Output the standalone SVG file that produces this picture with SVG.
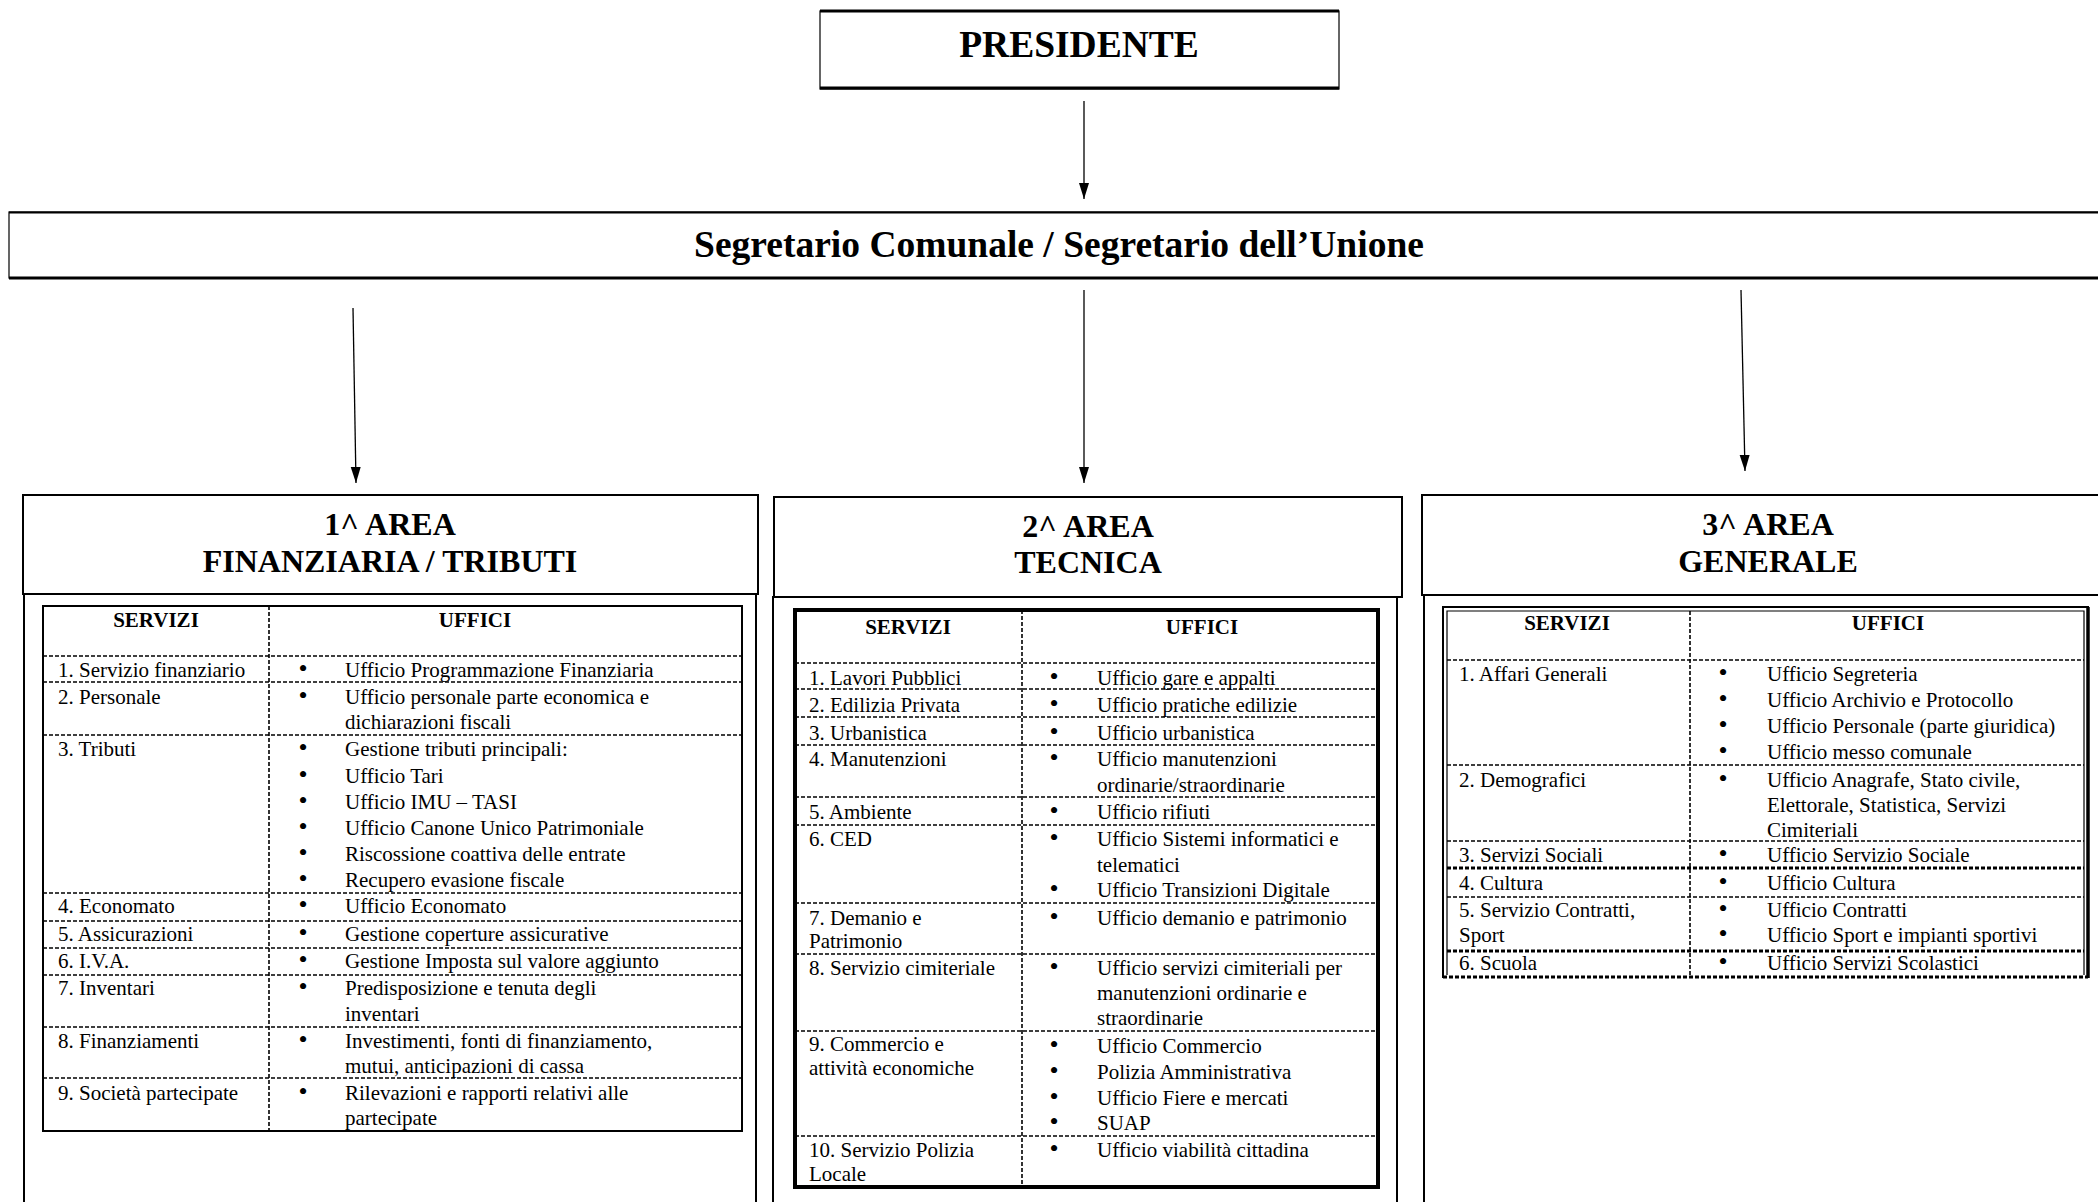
<svg xmlns="http://www.w3.org/2000/svg" width="2098" height="1202" viewBox="0 0 2098 1202">
<style>
  text { font-family: "Liberation Serif", "Times New Roman", serif; fill: #000; }
  .t { font-size: 21px; }
  .bu { font-size: 26px; text-anchor: middle; }
  .th { font-size: 21px; font-weight: bold; text-anchor: middle; }
  .h1 { font-size: 37.5px; font-weight: bold; text-anchor: middle; }
  .h2 { font-size: 32px; font-weight: bold; text-anchor: middle; }
  .box { fill: #fff; stroke: #000; stroke-width: 2; }
  .thin { fill: none; stroke: #000; stroke-width: 1.2; }
  .dash { fill: none; stroke: #000; stroke-width: 1.6; stroke-dasharray: 4 2; }
  .dashb { fill: none; stroke: #000; stroke-width: 3; stroke-dasharray: 4 2; }
  .conn { stroke: #000; stroke-width: 1.3; fill: none; }
</style>
<defs>
  <marker id="arr" markerUnits="userSpaceOnUse" markerWidth="17" markerHeight="11" refX="16" refY="5" orient="auto" viewBox="0 0 17 11">
    <path d="M0,0 L16,5 L0,10 z" fill="#000"/>
  </marker>
</defs>
<rect x="0" y="0" width="2098" height="1202" fill="#fff"/>

<g id="presidente">
  <rect x="820" y="11" width="519" height="78" class="thin" fill="#fff"/>
  <line x1="820" y1="11" x2="1339" y2="11" stroke="#000" stroke-width="3"/>
  <line x1="820" y1="88" x2="1339" y2="88" stroke="#000" stroke-width="3"/>
  <text x="1079" y="57" class="h1">PRESIDENTE</text>
</g>

<g id="segretario">
  <rect x="9" y="212" width="2100" height="66" class="thin" fill="#fff"/>
  <line x1="9" y1="212.5" x2="2098" y2="212.5" stroke="#000" stroke-width="2"/>
  <line x1="9" y1="278" x2="2098" y2="278" stroke="#000" stroke-width="3"/>
  <text x="1059" y="257" class="h1">Segretario Comunale / Segretario dell’Unione</text>
</g>

<g id="connectors">
  <line x1="1084" y1="101" x2="1084" y2="199" class="conn" marker-end="url(#arr)"/>
  <line x1="353" y1="308" x2="356" y2="483" class="conn" marker-end="url(#arr)"/>
  <line x1="1084" y1="290" x2="1084" y2="483" class="conn" marker-end="url(#arr)"/>
  <line x1="1741" y1="290" x2="1745" y2="471" class="conn" marker-end="url(#arr)"/>
</g>

<g id="area1">
  <rect x="24" y="594" width="732" height="630" class="box"/>
  <rect x="23" y="495" width="735" height="99" class="box"/>
  <text x="390" y="535" class="h2">1^ AREA</text>
  <text x="390" y="572" class="h2">FINANZIARIA / TRIBUTI</text>
  <rect x="43" y="606" width="699" height="525" class="box"/>
  <line x1="269" y1="606" x2="269" y2="1131" class="dash"/>
  <path class="dash" d="M43,656 H742 M43,682 H742 M43,735 H742 M43,893 H742 M43,921 H742 M43,948 H742 M43,975 H742 M43,1027 H742 M43,1078 H742"/>
  <text x="156" y="627" class="th">SERVIZI</text>
  <text x="475" y="627" class="th">UFFICI</text>

  <text x="58" y="677" class="t">1. Servizio finanziario</text>
  <text x="303" y="677" class="bu">•</text>
  <text x="345" y="677" class="t">Ufficio Programmazione Finanziaria</text>

  <text x="58" y="704" class="t">2. Personale</text>
  <text x="303" y="704" class="bu">•</text>
  <text x="345" y="704" class="t">Ufficio personale parte economica e</text>
  <text x="345" y="729" class="t">dichiarazioni fiscali</text>

  <text x="58" y="756" class="t">3. Tributi</text>
  <text x="303" y="756" class="bu">•</text>
  <text x="345" y="756" class="t">Gestione tributi principali:</text>
  <text x="303" y="783" class="bu">•</text>
  <text x="345" y="783" class="t">Ufficio Tari</text>
  <text x="303" y="809" class="bu">•</text>
  <text x="345" y="809" class="t">Ufficio IMU – TASI</text>
  <text x="303" y="835" class="bu">•</text>
  <text x="345" y="835" class="t">Ufficio Canone Unico Patrimoniale</text>
  <text x="303" y="861" class="bu">•</text>
  <text x="345" y="861" class="t">Riscossione coattiva delle entrate</text>
  <text x="303" y="887" class="bu">•</text>
  <text x="345" y="887" class="t">Recupero evasione fiscale</text>

  <text x="58" y="913" class="t">4. Economato</text>
  <text x="303" y="913" class="bu">•</text>
  <text x="345" y="913" class="t">Ufficio Economato</text>

  <text x="58" y="941" class="t">5. Assicurazioni</text>
  <text x="303" y="941" class="bu">•</text>
  <text x="345" y="941" class="t">Gestione coperture assicurative</text>

  <text x="58" y="968" class="t">6. I.V.A.</text>
  <text x="303" y="968" class="bu">•</text>
  <text x="345" y="968" class="t">Gestione Imposta sul valore aggiunto</text>

  <text x="58" y="995" class="t">7. Inventari</text>
  <text x="303" y="995" class="bu">•</text>
  <text x="345" y="995" class="t">Predisposizione e tenuta degli</text>
  <text x="345" y="1021" class="t">inventari</text>

  <text x="58" y="1048" class="t">8. Finanziamenti</text>
  <text x="303" y="1048" class="bu">•</text>
  <text x="345" y="1048" class="t">Investimenti, fonti di finanziamento,</text>
  <text x="345" y="1073" class="t">mutui, anticipazioni di cassa</text>

  <text x="58" y="1100" class="t">9. Società partecipate</text>
  <text x="303" y="1100" class="bu">•</text>
  <text x="345" y="1100" class="t">Rilevazioni e rapporti relativi alle</text>
  <text x="345" y="1125" class="t">partecipate</text>
</g>

<g id="area2">
  <rect x="773" y="597" width="624" height="630" class="box"/>
  <rect x="774" y="497" width="628" height="100" class="box"/>
  <text x="1088" y="537" class="h2">2^ AREA</text>
  <text x="1088" y="573" class="h2">TECNICA</text>
  <rect x="795" y="610" width="583" height="577" fill="#fff" stroke="#000" stroke-width="4"/>
  <line x1="1022" y1="610" x2="1022" y2="1187" class="dash"/>
  <path class="dash" d="M795,663 H1378 M795,689 H1378 M795,717 H1378 M795,745 H1378 M795,797 H1378 M795,825 H1378 M795,903 H1378 M795,954 H1378 M795,1031 H1378 M795,1136 H1378"/>
  <text x="908" y="634" class="th">SERVIZI</text>
  <text x="1202" y="634" class="th">UFFICI</text>

  <text x="809" y="685" class="t"> 1. Lavori Pubblici</text>
  <text x="1054" y="685" class="bu">•</text>
  <text x="1097" y="685" class="t">Ufficio gare e appalti</text>

  <text x="809" y="712" class="t">2. Edilizia Privata</text>
  <text x="1054" y="712" class="bu">•</text>
  <text x="1097" y="712" class="t">Ufficio pratiche edilizie</text>

  <text x="809" y="740" class="t">3. Urbanistica</text>
  <text x="1054" y="740" class="bu">•</text>
  <text x="1097" y="740" class="t">Ufficio urbanistica</text>

  <text x="809" y="766" class="t">4. Manutenzioni</text>
  <text x="1054" y="766" class="bu">•</text>
  <text x="1097" y="766" class="t">Ufficio manutenzioni</text>
  <text x="1097" y="792" class="t">ordinarie/straordinarie</text>

  <text x="809" y="819" class="t">5. Ambiente</text>
  <text x="1054" y="819" class="bu">•</text>
  <text x="1097" y="819" class="t">Ufficio rifiuti</text>

  <text x="809" y="846" class="t">6. CED</text>
  <text x="1054" y="846" class="bu">•</text>
  <text x="1097" y="846" class="t">Ufficio Sistemi informatici e</text>
  <text x="1097" y="872" class="t">telematici</text>
  <text x="1054" y="897" class="bu">•</text>
  <text x="1097" y="897" class="t">Ufficio Transizioni Digitale</text>

  <text x="809" y="925" class="t">7. Demanio e</text>
  <text x="809" y="948" class="t">Patrimonio</text>
  <text x="1054" y="925" class="bu">•</text>
  <text x="1097" y="925" class="t">Ufficio demanio e patrimonio</text>

  <text x="809" y="975" class="t">8. Servizio cimiteriale</text>
  <text x="1054" y="975" class="bu">•</text>
  <text x="1097" y="975" class="t">Ufficio servizi cimiteriali per</text>
  <text x="1097" y="1000" class="t">manutenzioni ordinarie e</text>
  <text x="1097" y="1025" class="t">straordinarie</text>

  <text x="809" y="1051" class="t">9. Commercio e</text>
  <text x="809" y="1075" class="t">attività economiche</text>
  <text x="1054" y="1053" class="bu">•</text>
  <text x="1097" y="1053" class="t">Ufficio Commercio</text>
  <text x="1054" y="1079" class="bu">•</text>
  <text x="1097" y="1079" class="t">Polizia Amministrativa</text>
  <text x="1054" y="1105" class="bu">•</text>
  <text x="1097" y="1105" class="t">Ufficio Fiere e mercati</text>
  <text x="1054" y="1130" class="bu">•</text>
  <text x="1097" y="1130" class="t">SUAP</text>

  <text x="809" y="1157" class="t">10. Servizio Polizia</text>
  <text x="809" y="1181" class="t">Locale</text>
  <text x="1054" y="1157" class="bu">•</text>
  <text x="1097" y="1157" class="t">Ufficio viabilità cittadina</text>
</g>

<g id="area3">
  <rect x="1424" y="595" width="700" height="630" class="box"/>
  <rect x="1422" y="495" width="700" height="100" class="box"/>
  <text x="1768" y="535" class="h2">3^ AREA</text>
  <text x="1768" y="572" class="h2">GENERALE</text>
  <rect x="1443" y="607" width="645" height="371" fill="#fff"/>
  <path d="M1443,978 V607 H2088 V978" fill="none" stroke="#000" stroke-width="2"/>
  <path d="M1447,975 V611 H2084 V975" fill="none" stroke="#000" stroke-width="1.2"/>
  <line x1="2088" y1="607" x2="2088" y2="978" stroke="#000" stroke-width="3.5"/>
  <line x1="1443" y1="977" x2="2088" y2="977" class="dashb"/>
  <line x1="1690" y1="611" x2="1690" y2="976" class="dash"/>
  <path class="dash" d="M1447,660 H2084 M1447,765 H2084 M1447,841 H2084 M1447,897 H2084"/>
  <path class="dashb" d="M1447,868 H2084 M1447,951 H2084"/>
  <text x="1567" y="630" class="th">SERVIZI</text>
  <text x="1888" y="630" class="th">UFFICI</text>

  <text x="1459" y="681" class="t"> 1. Affari Generali</text>
  <text x="1723" y="681" class="bu">•</text>
  <text x="1767" y="681" class="t">Ufficio Segreteria</text>
  <text x="1723" y="707" class="bu">•</text>
  <text x="1767" y="707" class="t">Ufficio Archivio e Protocollo</text>
  <text x="1723" y="733" class="bu">•</text>
  <text x="1767" y="733" class="t">Ufficio Personale (parte giuridica)</text>
  <text x="1723" y="759" class="bu">•</text>
  <text x="1767" y="759" class="t">Ufficio messo comunale</text>

  <text x="1459" y="787" class="t">2. Demografici</text>
  <text x="1723" y="787" class="bu">•</text>
  <text x="1767" y="787" class="t">Ufficio Anagrafe, Stato civile,</text>
  <text x="1767" y="812" class="t">Elettorale, Statistica, Servizi</text>
  <text x="1767" y="837" class="t">Cimiteriali</text>

  <text x="1459" y="862" class="t">3. Servizi Sociali</text>
  <text x="1723" y="862" class="bu">•</text>
  <text x="1767" y="862" class="t">Ufficio Servizio Sociale</text>

  <text x="1459" y="890" class="t">4. Cultura</text>
  <text x="1723" y="890" class="bu">•</text>
  <text x="1767" y="890" class="t">Ufficio Cultura</text>

  <text x="1459" y="917" class="t">5. Servizio Contratti,</text>
  <text x="1459" y="942" class="t">Sport</text>
  <text x="1723" y="917" class="bu">•</text>
  <text x="1767" y="917" class="t">Ufficio Contratti</text>
  <text x="1723" y="942" class="bu">•</text>
  <text x="1767" y="942" class="t">Ufficio Sport e impianti sportivi</text>

  <text x="1459" y="970" class="t">6. Scuola</text>
  <text x="1723" y="970" class="bu">•</text>
  <text x="1767" y="970" class="t">Ufficio Servizi Scolastici</text>
</g>
</svg>
